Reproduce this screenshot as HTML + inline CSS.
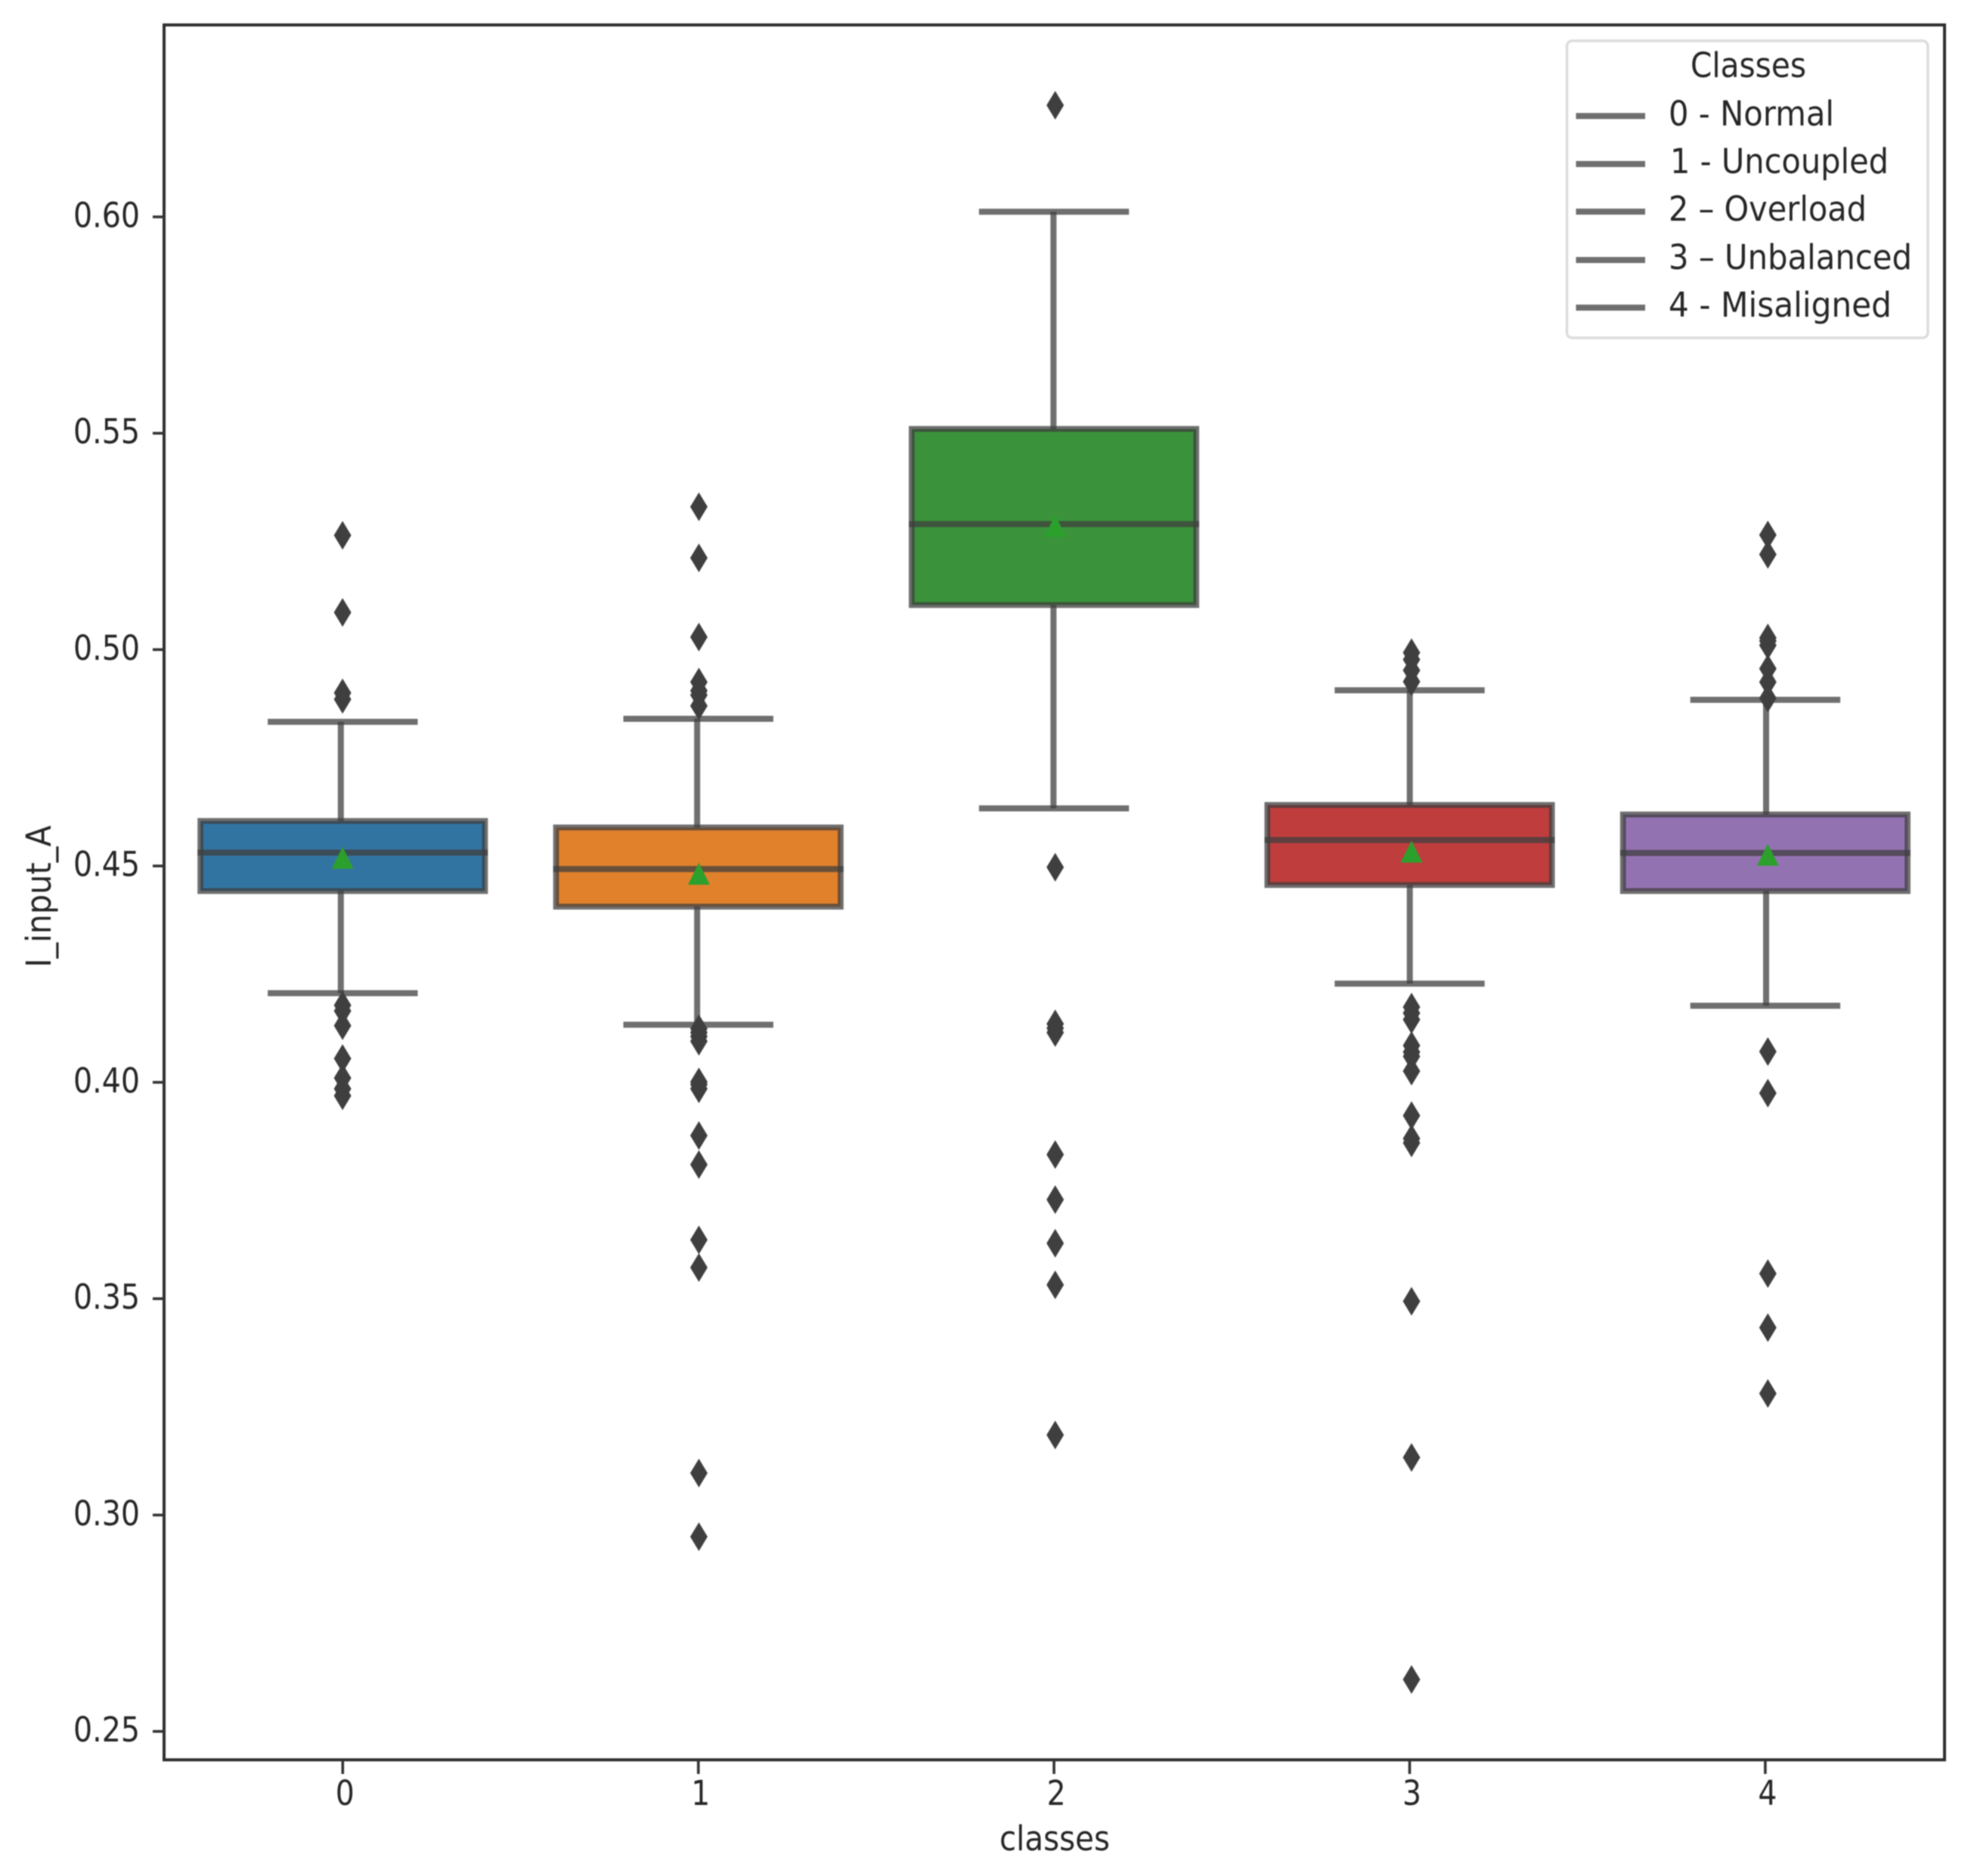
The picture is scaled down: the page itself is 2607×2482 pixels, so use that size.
<!DOCTYPE html>
<html lang="en">
<head>
<meta charset="utf-8">
<title>I_input_A by class</title>
<style>
html,body{margin:0;padding:0;background:#fff;}
#chart{display:block;width:2607px;height:2482px;filter:blur(0.9px);}
text{font-family:"DejaVu Sans","Liberation Sans",sans-serif;fill:#262626;font-size:45px;}
</style>
</head>
<body>
<svg id="chart" xmlns="http://www.w3.org/2000/svg" width="2607" height="2482" viewBox="0 0 2607 2482">
  <rect x="0" y="0" width="2607" height="2482" fill="#fff"/>
  <g id="plot"></g>
  <rect x="217" y="33" width="2355" height="2295.3" fill="none" stroke="#2e2e2e" stroke-width="4"/>
  <g id="axes"></g>
  <text x="1395" y="2448" text-anchor="middle" textLength="146" lengthAdjust="spacingAndGlyphs">classes</text>
  <text transform="translate(67 1186) rotate(-90)" text-anchor="middle" textLength="188" lengthAdjust="spacingAndGlyphs">I_input_A</text>
  <g>
    <rect x="2072.5" y="54" width="477.5" height="393" rx="7" ry="7" fill="#fff" fill-opacity="0.9" stroke="#dcdcdc" stroke-width="3.5"/>
    <text x="2236" y="102" textLength="153" lengthAdjust="spacingAndGlyphs">Classes</text>
    <line x1="2084.5" x2="2176" y1="153.5" y2="153.5" stroke="#6f6f6f" stroke-width="8"/>
    <text x="2207" y="166" textLength="219" lengthAdjust="spacingAndGlyphs">0 - Normal</text>
    <line x1="2084.5" x2="2176" y1="217" y2="217" stroke="#6f6f6f" stroke-width="8"/>
    <text x="2209" y="229" textLength="289" lengthAdjust="spacingAndGlyphs">1 - Uncoupled</text>
    <line x1="2084.5" x2="2176" y1="280" y2="280" stroke="#6f6f6f" stroke-width="8"/>
    <text x="2207" y="292" textLength="262" lengthAdjust="spacingAndGlyphs">2 – Overload</text>
    <line x1="2084.5" x2="2176" y1="344" y2="344" stroke="#6f6f6f" stroke-width="8"/>
    <text x="2207" y="356" textLength="322" lengthAdjust="spacingAndGlyphs">3 – Unbalanced</text>
    <line x1="2084.5" x2="2176" y1="407" y2="407" stroke="#6f6f6f" stroke-width="8"/>
    <text x="2207" y="419" textLength="295" lengthAdjust="spacingAndGlyphs">4 - Misaligned</text>
  </g>
</svg>
<script>
var categories = ['0', '1', '2', '3', '4'];
var q1Values = [0.4442, 0.4406, 0.5103, 0.4456, 0.4442];
var medianValues = [0.4531, 0.4493, 0.5290, 0.4560, 0.4530];
var q3Values = [0.4604, 0.4589, 0.5510, 0.4641, 0.4619];
var whiskerLowValues = [0.4206, 0.4133, 0.4633, 0.4228, 0.4177];
var whiskerHighValues = [0.4833, 0.4840, 0.6012, 0.4906, 0.4884];
var meanValues = [0.4519, 0.4482, 0.5286, 0.4533, 0.4526];
var fliers0 = [0.5264, 0.5086, 0.4900, 0.4885, 0.4178, 0.4165, 0.4131, 0.4055, 0.4010, 0.3985, 0.3969];
var fliers1 = [0.5330, 0.5212, 0.5029, 0.4925, 0.4905, 0.4895, 0.4870, 0.4124, 0.4115, 0.4106, 0.4095, 0.4001, 0.3995, 0.3985, 0.3877, 0.3810, 0.3636, 0.3572, 0.3097, 0.2950];
var fliers2 = [0.6258, 0.4497, 0.4135, 0.4125, 0.4115, 0.3833, 0.3729, 0.3628, 0.3532, 0.3185];
var fliers3 = [0.4993, 0.4977, 0.4952, 0.4926, 0.4174, 0.4160, 0.4145, 0.4085, 0.4070, 0.4060, 0.4026, 0.3923, 0.3870, 0.3860, 0.3494, 0.3133, 0.2620];
var fliers4 = [0.5265, 0.5220, 0.5027, 0.5020, 0.5010, 0.4956, 0.4925, 0.4888, 0.4071, 0.3975, 0.3558, 0.3433, 0.3281];
var yTickValues = [0.25, 0.30, 0.35, 0.40, 0.45, 0.50, 0.55, 0.60];
var yTickLabels = ['0.25', '0.30', '0.35', '0.40', '0.45', '0.50', '0.55', '0.60'];
var boxColors = ['#3274a1', '#e1812c', '#3a923a', '#c03d3e', '#9372b2'];

var allFliers = [fliers0, fliers1, fliers2, fliers3, fliers4];
var NS = 'http://www.w3.org/2000/svg';
var plot = document.getElementById('plot');
var axes = document.getElementById('axes');
var STROKE = 'rgba(63,63,63,0.75)';

function yScale(v) { return 2290.7 - (v - 0.25) * 5725; }
function xBox(i) { return 453.3 + 470.4 * i; }
function xWhisker(i) { return 450.8 + 471.3 * i; }
function xFlier(i) { return 453.1 + 471.3 * i; }

function make(parent, tag, attrs) {
  var el = document.createElementNS(NS, tag);
  for (var k in attrs) { el.setAttribute(k, attrs[k]); }
  parent.appendChild(el);
  return el;
}

categories.forEach(function (cat, i) {
  var g = make(plot, 'g', {});
  
  
  var bx = xBox(i);
  var wx = xWhisker(i);
  var halfBox = 188.2;
  var halfCap = 99.2;
  var box = make(g, 'rect', {
    x: bx - halfBox, y: yScale(q3Values[i]), width: halfBox * 2,
    height: yScale(q1Values[i]) - yScale(q3Values[i]),
    fill: boxColors[i], stroke: 'none'
  });
  
  
  var edge = make(g, 'rect', {
    x: bx - halfBox, y: yScale(q3Values[i]), width: halfBox * 2,
    height: yScale(q1Values[i]) - yScale(q3Values[i]),
    fill: 'none', stroke: STROKE, 'stroke-width': 7.7
  });
  
  
  var whiskerUp = make(g, 'line', {
    x1: wx, x2: wx, y1: yScale(q3Values[i]), y2: yScale(whiskerHighValues[i]),
    stroke: STROKE, 'stroke-width': 8
  });
  
  
  var whiskerDown = make(g, 'line', {
    x1: wx, x2: wx, y1: yScale(q1Values[i]), y2: yScale(whiskerLowValues[i]),
    stroke: STROKE, 'stroke-width': 8
  });
  
  
  var capHigh = make(g, 'line', {
    x1: bx - halfCap, x2: bx + halfCap, y1: yScale(whiskerHighValues[i]), y2: yScale(whiskerHighValues[i]),
    stroke: STROKE, 'stroke-width': 8
  });
  
  
  var capLow = make(g, 'line', {
    x1: bx - halfCap, x2: bx + halfCap, y1: yScale(whiskerLowValues[i]), y2: yScale(whiskerLowValues[i]),
    stroke: STROKE, 'stroke-width': 8
  });
  
  
  var median = make(g, 'line', {
    x1: bx - halfBox - 3.8, x2: bx + halfBox + 3.8, y1: yScale(medianValues[i]), y2: yScale(medianValues[i]),
    stroke: STROKE, 'stroke-width': 8
  });
  
  
  allFliers[i].forEach(function (v, j) {
    var px = xFlier(i), py = yScale(v);
    var d = make(g, 'polygon', {
      points: px + ',' + (py - 19) + ' ' + (px + 11.5) + ',' + py + ' ' + px + ',' + (py + 19) + ' ' + (px - 11.5) + ',' + py,
      fill: '#3f3f3f'
    });
    
    
  });
  var mx = xFlier(i), my = yScale(meanValues[i]);
  var tri = make(g, 'polygon', {
    points: mx + ',' + (my - 14.5) + ' ' + (mx + 14.5) + ',' + (my + 14.5) + ' ' + (mx - 14.5) + ',' + (my + 14.5),
    fill: '#2ca02c'
  });
  
  

  var tick = make(axes, 'line', {
    x1: bx, x2: bx, y1: 2328, y2: 2347, stroke: '#333', 'stroke-width': 3.6
  });
  
  
  var label = make(axes, 'text', { x: bx + 3, y: 2388, 'text-anchor': 'middle', textLength: 25, lengthAdjust: 'spacingAndGlyphs' });
  label.textContent = cat;
  
  
});

yTickValues.forEach(function (v, i) {
  var y = yScale(v);
  var tick = make(axes, 'line', {
    x1: 202, x2: 217, y1: y, y2: y, stroke: '#333', 'stroke-width': 3.6
  });
  
  
  var label = make(axes, 'text', { x: 97, y: y + 13.5, textLength: 88, lengthAdjust: 'spacingAndGlyphs' });
  label.textContent = yTickLabels[i];
  
  
});
</script>
</body>
</html>
